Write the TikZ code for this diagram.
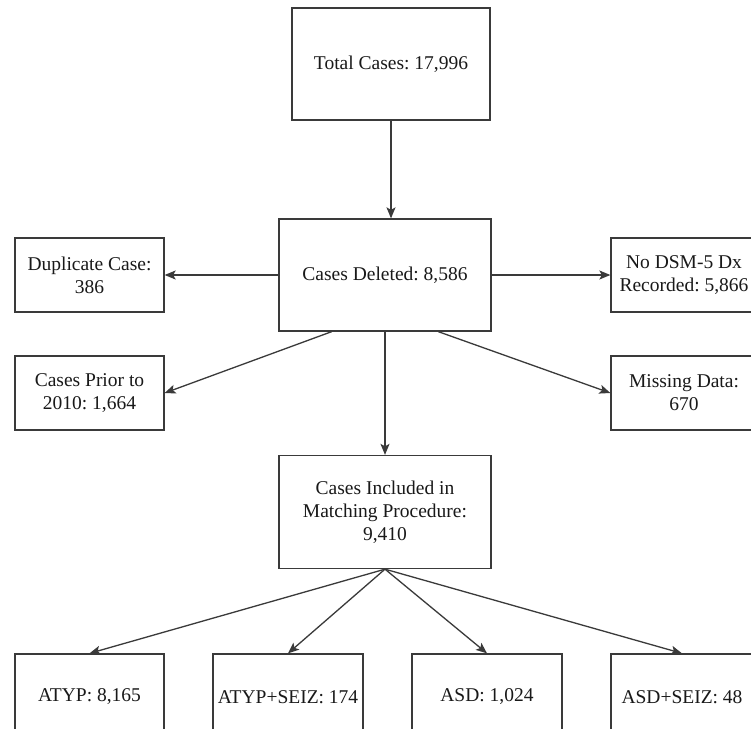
\documentclass[tikz,border=0pt]{standalone}
\usepackage{fontspec}
\setmainfont{Liberation Serif}
\usetikzlibrary{arrows.meta,calc}
\definecolor{linec}{HTML}{3A3A3A}
\frenchspacing
\begin{document}
\begin{tikzpicture}[x=1pt,y=-1pt,
  box/.style={draw=linec,line width=1.3pt,fill=white,inner sep=0pt,align=center,
    text=black!90,font=\fontsize{19.5}{23}\selectfont\frenchspacing},
  arr/.style={draw=linec,line width=1.3pt,-{Stealth[length=11pt,width=9pt,inset=2.5pt]}}]
\fill[white] (0,0) rectangle (751,728);
\clip (0,0) rectangle (751,728);
\node[box,minimum width=198pt,minimum height=112pt] (total) at (391,64) {Total Cases: 17,996};
\node[box,minimum width=212pt,minimum height=112pt] (del) at (385,275) {Cases Deleted: 8,586};
\node[box,minimum width=149pt,minimum height=74pt] (dup) at (89.5,275) {Duplicate Case:\\386};
\node[box,minimum width=146pt,minimum height=74pt] (nodsm) at (684,275) {No DSM-5 Dx\\Recorded: 5,866};
\node[box,minimum width=149pt,minimum height=74pt] (prior) at (89.5,393) {Cases Prior to\\2010: 1,664};
\node[box,minimum width=146pt,minimum height=74pt] (miss) at (684,393) {Missing Data:\\670};
\node[box,minimum width=212pt,minimum height=113pt] (incl) at (385,512) {Cases Included in\\Matching Procedure:\\9,410};
\node[box,minimum width=149pt,minimum height=86pt] (atyp) at (89.5,697) {ATYP: 8,165};
\node[box,minimum width=150pt,minimum height=86pt] (atyps) at (288,697) {ATYP+SEIZ: 174};
\node[box,minimum width=150pt,minimum height=86pt] (asd) at (487,697) {ASD: 1,024};
\node[box,minimum width=142pt,minimum height=86pt] (asds) at (682,697) {ASD+SEIZ: 48};
% connectors
\coordinate (dtop) at (total.south |- del.north);
\draw[arr] (total.south) -- (dtop);
\draw[arr] (del.west) -- (dup.east);
\draw[arr] (del.east) -- (nodsm.west);
\coordinate (dsl) at ($(del.south west)!0.25!(del.south east)$);
\coordinate (dsr) at ($(del.south west)!0.75!(del.south east)$);
\draw[arr] (dsl) -- (prior.east);
\draw[arr] (dsr) -- (miss.west);
\coordinate (dsc) at (del.south -| incl.north);
\draw[arr] (dsc) -- (incl.north);
\draw[arr] (incl.south) -- (atyp.north);
\draw[arr] (incl.south) -- (atyps.north);
\draw[arr] (incl.south) -- (asd.north);
\draw[arr] (incl.south) -- (asds.north);
\end{tikzpicture}
\end{document}
